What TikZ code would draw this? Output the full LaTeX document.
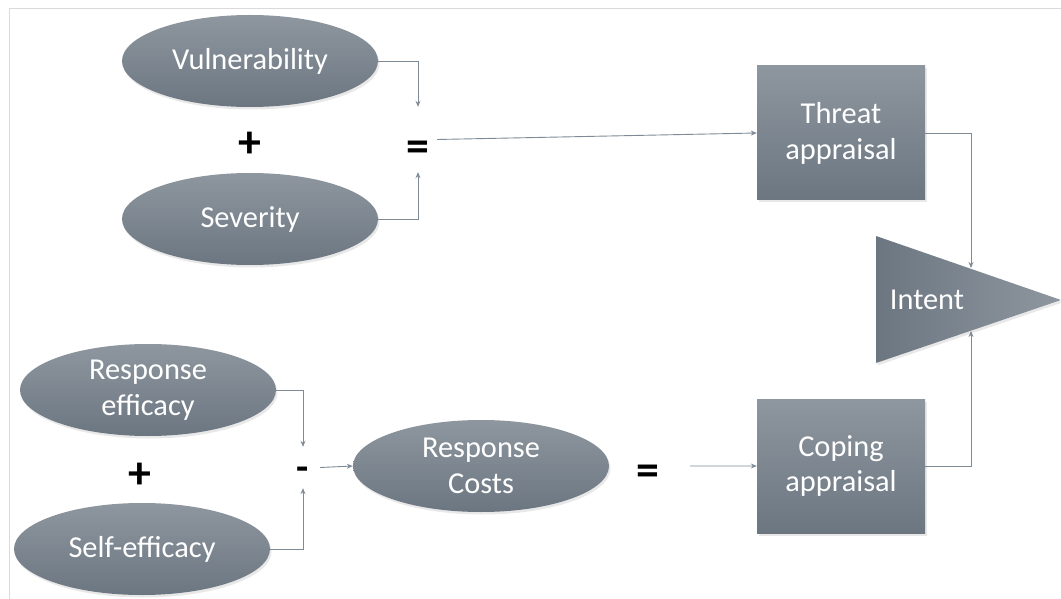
\documentclass[tikz,border=0pt]{standalone}
\usepackage{fontspec}
\setmainfont{Carlito}
\usetikzlibrary{shapes.geometric,arrows.meta,shadows}
\definecolor{topfill}{HTML}{8E979F}
\definecolor{botfill}{HTML}{6C7681}
\definecolor{linkcol}{HTML}{7E8A95}
\definecolor{framecol}{HTML}{DADADA}
\begin{document}
\begin{tikzpicture}[x=1bp,y=-1bp,
  every node/.style={font=\fontsize{30.5}{36}\selectfont},
  softshadow/.style={drop shadow={opacity=0.18, shadow xshift=1.5bp, shadow yshift=-2.5bp}},
  oval/.style={ellipse, minimum width=256bp, minimum height=92bp, inner sep=0pt,
    top color=topfill, bottom color=botfill, draw=none, text=white, align=center, softshadow},
  panel/.style={rectangle, minimum width=168bp, minimum height=134bp, inner sep=0pt,
    top color=topfill, bottom color=botfill, draw=none, text=white, align=center, softshadow},
  op/.style={inner sep=0pt, text=black, anchor=base, font=\fontsize{46}{46}\selectfont\bfseries},
  link/.style={draw=linkcol, line width=0.9bp, -{Stealth[length=6bp,width=5bp]}}
]
\useasboundingbox (0,0) rectangle (1061,599);

% frame
\draw[framecol, line width=1bp] (9,599) -- (9,9) -- (1061,9);

% threat side
\node[oval] (vul) at (250,61) {Vulnerability};
\node[oval] (sev) at (250,219) {Severity};
\node[op] (plus1) at (250,158) {+};
\node[op, minimum width=38bp, text height=55bp, text depth=10bp] (eq1) at (418,162) {=};
\node[panel] (threat) at (841,133) {Threat\\appraisal};

% coping side
\node[oval] (reff) at (148,390) {Response\\efficacy};
\node[oval] (self) at (142,549) {Self-efficacy};
\node[op] (plus2) at (140,488) {+};
\node[op, font=\fontsize{40}{40}\selectfont\bfseries, minimum width=34bp,
      text height=33bp, text depth=8bp] (minus) at (303,480) {-};
\node[oval] (cost) at (481,466) {Response\\Costs};
\node[op, minimum width=84bp, text height=38bp, text depth=0bp] (eq2) at (648,485) {=};
\node[panel] (coping) at (841,466) {Coping\\appraisal};

% intent triangle
\shade[left color=botfill, right color=topfill, softshadow]
  (876,236) -- (1061,300) -- (876,363) -- cycle;
\node[text=white] (intent) at (927,300) {Intent};
\coordinate (intin1) at (971,268);
\coordinate (intin2) at (971,331);

% connectors
\draw[link] (vul.east) -| (eq1.north);
\draw[link] (sev.east) -| (eq1.south);
\draw[link] (eq1.east) -- (threat.west);
\draw[link] (reff.east) -| (minus.north);
\draw[link] (self.east) -| (minus.south);
\draw[link] (minus.east) -- (cost.west);
\draw[link] (eq2.east) -- (coping.west);
\draw[link] (threat.east) -| (intin1);
\draw[link] (coping.east) -| (intin2);
\end{tikzpicture}
\end{document}
